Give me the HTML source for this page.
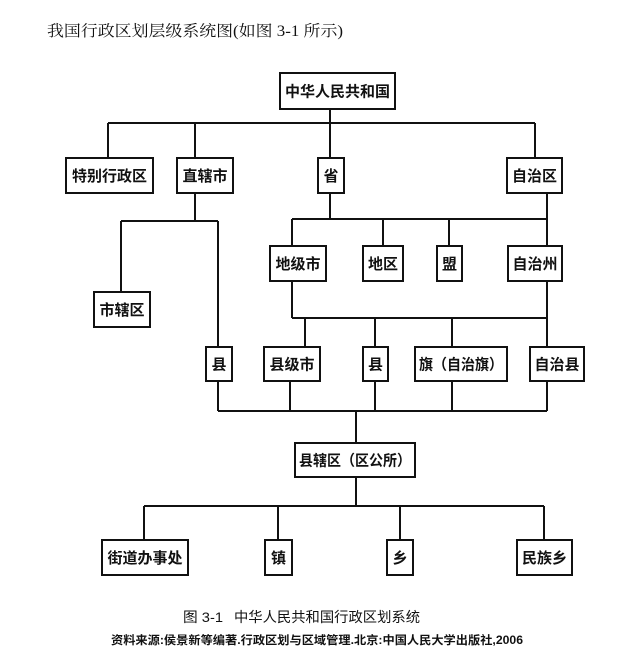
<!DOCTYPE html>
<html><head><meta charset="utf-8"><style>
html,body{margin:0;padding:0;background:#fff}
svg{display:block}
text{font-family:"Liberation Sans","Noto Sans CJK SC",sans-serif;fill:#111}
.b{font-weight:bold;font-size:15px}
</style></head><body>
<svg width="622" height="667" viewBox="0 0 622 667" xmlns="http://www.w3.org/2000/svg">
<rect width="622" height="667" fill="#fff"/>
<text x="47" y="36" style="font-family:'Liberation Serif','Noto Serif CJK SC',serif;font-size:15.5px" textLength="296" lengthAdjust="spacingAndGlyphs">我国行政区划层级系统图(如图 3-1 所示)</text>
<g stroke="#111" stroke-width="2" fill="none">
<path d="M330 109V124M108 123H535M108 123V158M195 123V158M330 123V158M535 123V158"/>
<path d="M195 193V221M121 221H218M121 221V292M218 221V347"/>
<path d="M330 193V219M292 219H547M547 193V246M292 219V246M383 219V246M449 219V246"/>
<path d="M292 281V318M547 281V347M292 318H547M305 318V347M375 318V347M452 318V347"/>
<path d="M218 381V411M290 381V411M375 381V411M452 381V411M547 381V411M218 411H547M356 411V443"/>
<path d="M356 477V506M144 506H544M144 506V540M278 506V540M400 506V540M544 506V540"/>
<rect x="280" y="73" width="115" height="36"/>
<rect x="66" y="158" width="87" height="35"/>
<rect x="177" y="158" width="56" height="35"/>
<rect x="318" y="158" width="26" height="35"/>
<rect x="507" y="158" width="55" height="35"/>
<rect x="94" y="292" width="56" height="35"/>
<rect x="270" y="246" width="56" height="35"/>
<rect x="363" y="246" width="40" height="35"/>
<rect x="437" y="246" width="25" height="35"/>
<rect x="508" y="246" width="54" height="35"/>
<rect x="206" y="347" width="26" height="34"/>
<rect x="264" y="347" width="56" height="34"/>
<rect x="363" y="347" width="25" height="34"/>
<rect x="415" y="347" width="92" height="34"/>
<rect x="530" y="347" width="54" height="34"/>
<rect x="295" y="443" width="120" height="34"/>
<rect x="102" y="540" width="86" height="35"/>
<rect x="265" y="540" width="27" height="35"/>
<rect x="387" y="540" width="26" height="35"/>
<rect x="517" y="540" width="55" height="35"/>
</g>
<g class="b" text-anchor="middle">
<text x="337.5" y="96.5" textLength="105" lengthAdjust="spacingAndGlyphs">中华人民共和国</text>
<text x="109.5" y="181">特别行政区</text>
<text x="205" y="181">直辖市</text>
<text x="331" y="181">省</text>
<text x="534.5" y="181">自治区</text>
<text x="122" y="315">市辖区</text>
<text x="298" y="269">地级市</text>
<text x="383" y="269">地区</text>
<text x="449.5" y="269">盟</text>
<text x="535" y="269">自治州</text>
<text x="219" y="369.5">县</text>
<text x="292" y="369.5">县级市</text>
<text x="375.5" y="369.5">县</text>
<text x="461" y="369.5" textLength="84" lengthAdjust="spacingAndGlyphs">旗（自治旗）</text>
<text x="557" y="369.5">自治县</text>
<text x="355" y="465.5" textLength="112" lengthAdjust="spacingAndGlyphs">县辖区（区公所）</text>
<text x="145" y="563">街道办事处</text>
<text x="278.5" y="563">镇</text>
<text x="400" y="563">乡</text>
<text x="544.5" y="563">民族乡</text>
</g>
<text x="183" y="622" font-size="14" textLength="40" lengthAdjust="spacingAndGlyphs">图 3-1</text>
<text x="234" y="622" font-size="14" textLength="186" lengthAdjust="spacingAndGlyphs">中华人民共和国行政区划系统</text>
<text x="111" y="644" font-size="11.5" font-weight="bold" textLength="412" lengthAdjust="spacingAndGlyphs">资料来源:侯景新等编著.行政区划与区域管理.北京:中国人民大学出版社,2006</text>
</svg>
</body></html>
